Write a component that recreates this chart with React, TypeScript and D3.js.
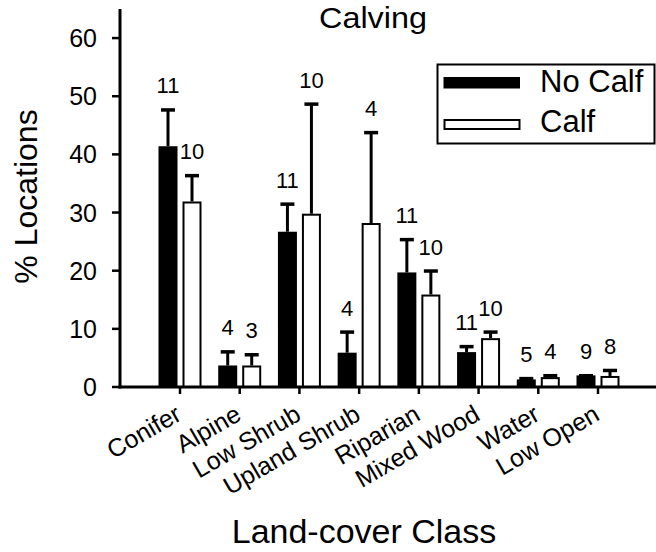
import React from "react";
import * as d3 from "d3";

const categories = ["Conifer", "Alpine", "Low Shrub", "Upland Shrub", "Riparian", "Mixed Wood", "Water", "Low Open"];
const noCalfMean = [41.4, 3.7, 26.7, 5.9, 19.7, 6.0, 1.3, 2.0];
const noCalfUpper = [47.9, 6.3, 31.7, 9.7, 25.6, 7.2, 1.7, 2.2];
const calfMean = [31.9, 3.7, 29.8, 28.2, 15.9, 8.4, 1.7, 1.9];
const calfUpper = [36.6, 5.8, 48.9, 44.0, 20.2, 9.7, 2.2, 3.1];
const noCalfN = [11, 4, 11, 4, 11, 11, 5, 9];
const calfN = [10, 3, 10, 4, 10, 10, 4, 8];
const yTicks = [0, 10, 20, 30, 40, 50, 60];
const seriesNames = ["No Calf", "Calf"];

const W = 656;
const H = 552;
const FONT = "'Liberation Sans', Arial, Helvetica, sans-serif";

export default function App() {
  const x = d3.scalePoint<string>().domain(categories).range([180, 598]);
  const y = d3.scaleLinear().domain([0, 65]).range([387, 9]);
  const axisX0 = 120;
  const axisXEnd = 657;

  const series = [
    { mean: noCalfMean, upper: noCalfUpper, n: noCalfN, fill: "#000", off: -12 },
    { mean: calfMean, upper: calfUpper, n: calfN, fill: "#fff", off: 12 },
  ];

  return (
    <svg width={W} height={H} style={{ position: "absolute", left: 0, top: 0, background: "#fff" }} fontFamily={FONT}>
      <rect x={0} y={0} width={W} height={H} fill="#fff" />
      {/* title */}
      <text x={373} y={28} fontSize={29} textAnchor="middle" textLength={108} lengthAdjust="spacingAndGlyphs" fill="#000">Calving</text>

      {/* bars */}
      {series.map((s, si) =>
        categories.map((c, i) => {
          const cx = (x(c) as number) + s.off;
          const top = y(s.mean[i]);
          const base = y(0);
          const up = y(s.upper[i]);
          return (
            <g key={`${si}-${i}`}>
              <line x1={cx} x2={cx} y1={top} y2={up + 1.5} stroke="#000" strokeWidth={3} />
              <line x1={cx - 7} x2={cx + 7} y1={up + 1.5} y2={up + 1.5} stroke="#000" strokeWidth={3.5} />
              {si === 0 ? (
                <rect x={cx - 9.5} y={top} width={19} height={base - top} fill="#000" />
              ) : (
                <rect x={cx - 8.5} y={top + 1} width={17} height={Math.max(0, base - top - 1)} fill="#fff" stroke="#000" strokeWidth={2} />
              )}
              <text x={cx} y={up - 15} fontSize={22} textAnchor="middle" fill="#000">{s.n[i]}</text>
            </g>
          );
        })
      )}

      {/* y axis */}
      <line x1={axisX0} x2={axisX0} y1={y(65)} y2={y(0) + 1.5} stroke="#000" strokeWidth={3} />
      {yTicks.map((t) => (
        <g key={t}>
          <line x1={axisX0 - 8} x2={axisX0} y1={y(t)} y2={y(t)} stroke="#000" strokeWidth={2.5} />
          <text x={97} y={y(t)} dy="0.36em" fontSize={25} textAnchor="end" fill="#000">{t}</text>
        </g>
      ))}

      {/* x axis */}
      <line x1={axisX0 - 1.5} x2={axisXEnd} y1={y(0)} y2={y(0)} stroke="#000" strokeWidth={3} />
      {categories.map((c) => (
        <g key={c}>
          <line x1={x(c)} x2={x(c)} y1={y(0)} y2={y(0) + 7} stroke="#000" strokeWidth={2.5} />
          <text
            transform={`translate(${(x(c) as number) + 3},${419}) rotate(-30)`}
            fontSize={25}
            textAnchor="end"
            fill="#000"
          >
            {c}
          </text>
        </g>
      ))}

      {/* axis titles */}
      <text transform={`translate(37,196.5) rotate(-90)`} fontSize={32} textAnchor="middle" fill="#000">% Locations</text>
      <text x={364} y={542.7} fontSize={34} textAnchor="middle" fill="#000">Land-cover Class</text>

      {/* legend */}
      <rect x={437.5} y={64.5} width={217} height={79} fill="#fff" stroke="#000" strokeWidth={2} />
      <rect x={443.5} y={77} width={76.5} height={11.5} fill="#000" />
      <rect x={444.5} y={120} width={75} height={9} fill="#fff" stroke="#000" strokeWidth={2} />
      <text x={540} y={91.7} fontSize={31} fill="#000">{seriesNames[0]}</text>
      <text x={540} y={131.7} fontSize={31} fill="#000">{seriesNames[1]}</text>
    </svg>
  );
}
